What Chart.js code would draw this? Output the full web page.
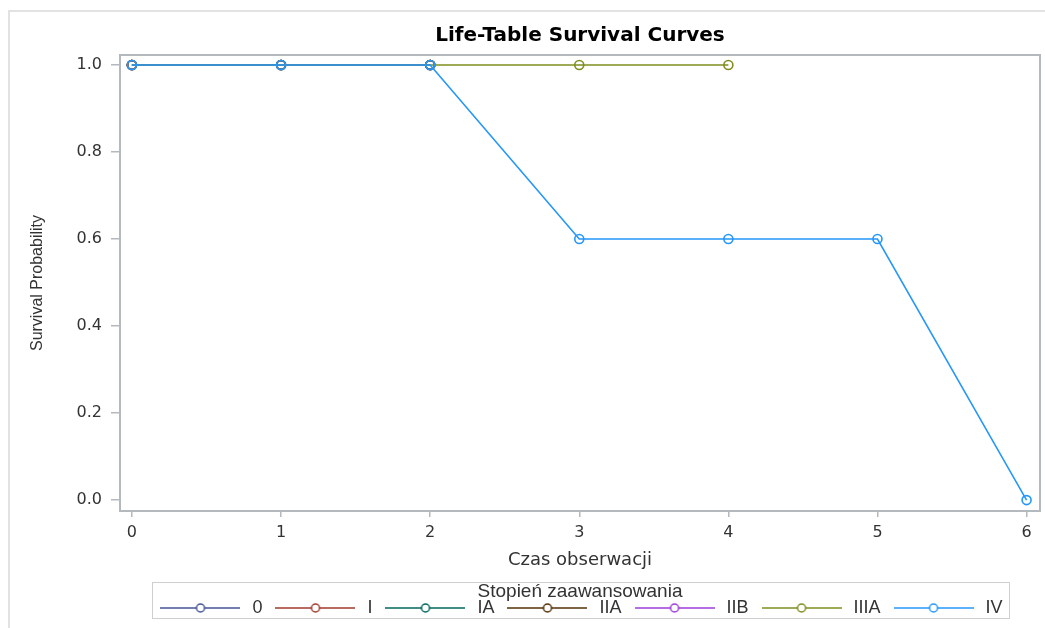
<!DOCTYPE html>
<html>
<head>
<meta charset="utf-8">
<script src="https://cdn.jsdelivr.net/npm/chart.js@4/dist/chart.umd.min.js"></script>
<style>
  html, body { margin: 0; padding: 0; background: #fff; overflow: hidden; }
  #page { position: absolute; left: 8px; top: 10px; width: 1100px; height: 700px;
          border-top: 2px solid #e2e2e2; border-left: 2px solid #e2e2e2; }
  #wrap { position: absolute; left: 0; top: 0; width: 1160px; height: 628px; }
</style>
</head>
<body>
<div id="page"></div>
<div id="wrap"><canvas id="survChart" width="1160" height="628"></canvas></div>
<script>
// tick labels
const xTicks = [0, 1, 2, 3, 4, 5, 6];
const yTicks = [0, 0.2, 0.4, 0.6, 0.8, 1.0];
const yTickLabels = ['0.0', '0.2', '0.4', '0.6', '0.8', '1.0'];

// categories (Stopień zaawansowania)
const stages = ['0', 'I', 'IA', 'IIA', 'IIB', 'IIIA', 'IV'];
const colors = ['#445694', '#A23A2E', '#01665E', '#543005', '#9D3CDB', '#7F8E1F', '#2597FA'];

// series values (time, survival)
const time0 = [0, 1, 2],             surv0 = [1, 1, 1];
const timeI = [0, 1, 2],             survI = [1, 1, 1];
const timeIA = [0, 1, 2],            survIA = [1, 1, 1];
const timeIIA = [0, 1, 2],           survIIA = [1, 1, 1];
const timeIIB = [0, 1, 2],           survIIB = [1, 1, 1];
const timeIIIA = [0, 1, 2, 3, 4],    survIIIA = [1, 1, 1, 1, 1];
const timeIV = [0, 1, 2, 3, 4, 5, 6], survIV = [1, 1, 1, 0.6, 0.6, 0.6, 0];

const times = [time0, timeI, timeIA, timeIIA, timeIIB, timeIIIA, timeIV];
const survs = [surv0, survI, survIA, survIIA, survIIB, survIIIA, survIV];

// legend icon: line with hollow circle in the middle
function legendIcon(color) {
  const c = document.createElement('canvas');
  c.width = 80; c.height = 14;
  const g = c.getContext('2d');
  g.strokeStyle = color; g.lineWidth = 1.5;
  g.beginPath(); g.moveTo(0, 7); g.lineTo(80, 7); g.stroke();
  g.beginPath(); g.arc(40, 7, 4, 0, Math.PI * 2);
  g.fillStyle = '#fff'; g.fill(); g.stroke();
  return c;
}
const icons = colors.map(legendIcon);

const datasets = stages.map((s, i) => ({
  label: s,
  data: times[i].map((t, k) => ({ x: t, y: survs[i][k] })),
  borderColor: colors[i],
  backgroundColor: 'transparent',
  borderWidth: 1.6,
  pointRadius: 4.5,
  pointBorderWidth: 1.6,
  pointBackgroundColor: 'transparent',
  pointBorderColor: colors[i],
  order: stages.length - 1 - i,
  tension: 0
}));

const framePlugin = {
  id: 'frame',
  beforeDatasetsDraw(chart) {
    const { ctx, chartArea: a } = chart;
    ctx.save();
    ctx.strokeStyle = '#b4b9be';
    ctx.lineWidth = 2;
    ctx.strokeRect(a.left, a.top, a.right - a.left, a.bottom - a.top);
    ctx.restore();
  },
  afterDraw(chart) {
    const { ctx, legend } = chart;
    const boxes = legend.legendHitBoxes;
    if (!boxes.length) return;
    const last = boxes[boxes.length - 1];
    const l = Math.round(boxes[0].left - 5), r = Math.round(last.left + last.width + 6);
    ctx.save();
    ctx.strokeStyle = '#cfcfcf';
    ctx.lineWidth = 1;
    ctx.strokeRect(l + 0.5, Math.round(legend.top) + 0.5, r - l, 36);
    ctx.restore();
  }
};

new Chart(document.getElementById('survChart'), {
  type: 'line',
  data: { datasets: datasets },
  options: {
    responsive: false,
    animation: false,
    devicePixelRatio: 1,
    layout: { padding: { left: 0, right: 0, top: 0, bottom: 1 } },
    scales: {
      x: {
        type: 'linear',
        min: -0.08,
        max: 6.09,
        afterBuildTicks: s => { s.ticks = xTicks.map(v => ({ value: v })); },
        afterFit: s => { s.height = 71; },
        border: { display: false },
        grid: { display: true, drawOnChartArea: false, drawTicks: true, tickLength: 6, tickColor: '#b4b9be', lineWidth: 1.5 },
        ticks: { color: '#333', padding: 6, font: { family: 'DejaVu Sans', size: 16 }, callback: v => String(v) },
        title: { display: true, text: 'Czas obserwacji', color: '#333',
                 font: { family: 'DejaVu Sans', size: 18 }, padding: { top: 0, bottom: 11.2 } }
      },
      y: {
        type: 'linear',
        min: -0.025,
        max: 1.023,
        afterBuildTicks: s => { s.ticks = yTicks.map(v => ({ value: v })); },
        afterFit: s => { s.width = 120; },
        border: { display: false },
        grid: { display: true, drawOnChartArea: false, drawTicks: true, tickLength: 9, tickColor: '#b4b9be', lineWidth: 1.5 },
        ticks: { color: '#333', padding: 9, font: { family: 'DejaVu Sans', size: 16 },
                 callback: v => yTickLabels[yTicks.indexOf(v)] },
        title: { display: true, text: 'Survival Probability', color: '#333',
                 font: { family: 'Liberation Sans', size: 16 }, padding: { top: 28, bottom: 0 } }
      },
      y2: {
        type: 'linear',
        position: 'right',
        display: true,
        afterFit: s => { s.width = 120; },
        border: { display: false },
        grid: { display: false, drawTicks: false },
        ticks: { display: false }
      }
    },
    plugins: {
      title: {
        display: true,
        text: 'Life-Table Survival Curves',
        color: '#000',
        font: { family: 'DejaVu Sans', size: 20, weight: 'bold' },
        padding: { top: 24, bottom: 7 }
      },
      legend: {
        position: 'bottom',
        title: { display: true, text: 'Stopień zaawansowania', position: 'center', color: '#333',
                 font: { family: 'Liberation Sans', size: 19 }, padding: { top: 0, bottom: -15.8 } },
        labels: {
          usePointStyle: true,
          pointStyleWidth: 86,
          boxHeight: 14,
          padding: 10,
          color: '#333',
          font: { family: 'Liberation Sans', size: 18 },
          sort: (a, b) => a.datasetIndex - b.datasetIndex,
          generateLabels(chart) {
            const items = Chart.defaults.plugins.legend.labels.generateLabels(chart);
            items.forEach(it => { it.pointStyle = icons[it.datasetIndex]; });
            return items;
          }
        }
      },
      tooltip: { enabled: false }
    }
  },
  plugins: [framePlugin]
});
</script>
</body>
</html>
